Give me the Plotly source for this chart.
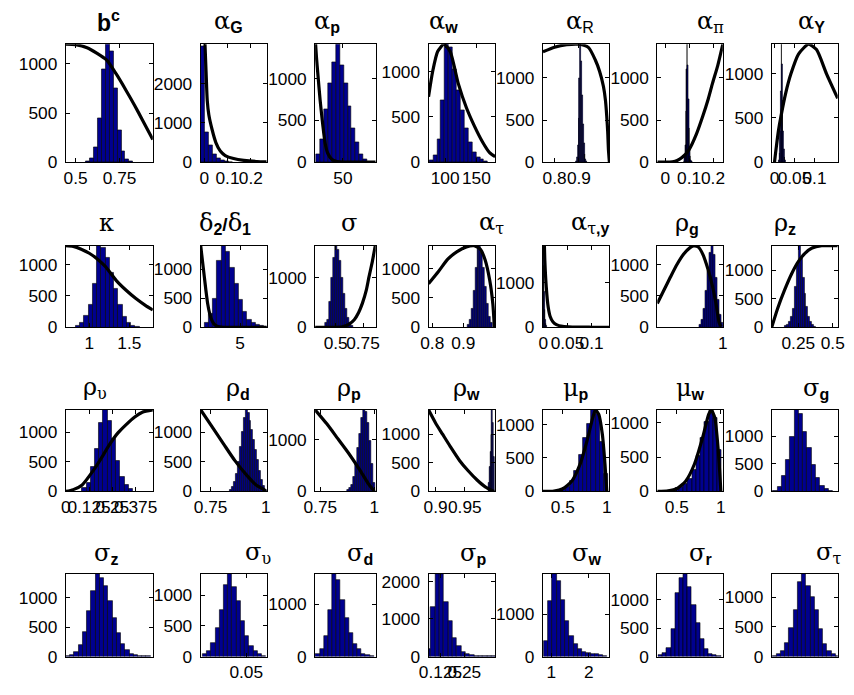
import plotly.graph_objects as go

W, H = 854, 695

# ---------------- data ----------------
# b^c
bc_x0, bc_dx = 0.571, 0.0222
bc_counts = [10, 40, 150, 450, 950, 1200, 1130, 750, 330, 110, 30, 8]
bc_px = [0.444, 0.5, 0.565, 0.62, 0.676, 0.73, 0.787, 0.835, 0.88, 0.939]
bc_py = [1200, 1195, 1165, 1110, 1040, 900, 730, 580, 430, 230]
bc_xr, bc_ymax = [0.444, 0.939], 1200
bc_xt, bc_xl = [0.5, 0.75], ["0.5", "0.75"]
bc_yt = [0, 500, 1000]

# alpha_G
aG_x0, aG_dx = -0.007, 0.017
aG_counts = [2950, 750, 420, 210, 100, 50, 25, 10]
aG_px = [0.0, 0.004, 0.008, 0.013, 0.02, 0.034, 0.05, 0.069, 0.09, 0.126, 0.17, 0.226, 0.268]
aG_py = [3500, 2900, 2300, 1575, 1200, 825, 500, 283, 170, 92, 45, 17, 10]
aG_xr, aG_ymax = [-0.015, 0.268], 3000
aG_xt, aG_xl = [0, 0.1, 0.2], ["0", "0.1", "0.2"]
aG_yt = [0, 1000, 2000]

# alpha_p
ap_x0, ap_dx = 13.9, 5.7
ap_counts = [98, 274, 627, 940, 1195, 1410, 1155, 940, 666, 411, 235, 98, 40]
ap_px = [10, 12, 14, 17.2, 20, 24.3, 28, 33.9, 40, 50, 97]
ap_py = [1500, 1250, 1050, 741, 520, 232, 110, 35, 10, 2, 0]
ap_xr, ap_ymax = [10, 97], 1410
ap_xt, ap_xl = [50], ["50"]
ap_yt = [0, 500, 1000]

# alpha_w
aw_x0, aw_dx = 77.7, 6.25
aw_counts = [18, 72, 253, 686, 1300, 1264, 1029, 794, 578, 379, 217, 108, 54, 29, 10]
aw_px = [73.4, 80, 88, 98, 108, 121, 134, 147, 160, 171, 180]
aw_py = [720, 1000, 1220, 1300, 1220, 866, 600, 395, 220, 105, 60]
aw_xr, aw_ymax = [73.4, 179.7], 1300
aw_xt, aw_xl = [100, 150], ["100", "150"]
aw_yt = [0, 500, 1000]

# alpha_R
aR_x0, aR_dx = 0.8895, 0.0035
aR_counts = [15, 60, 200, 520, 1000, 1400, 1200, 800, 450, 220, 90, 30, 10]
aR_px = [0.752, 0.8, 0.85, 0.9, 0.94, 0.968, 0.985, 1.001, 1.009, 1.0146, 1.0185, 1.0215, 1.0255]
aR_py = [1310, 1365, 1395, 1400, 1360, 1210, 1080, 898, 740, 545, 360, 153, 0]
aR_xr, aR_ymax = [0.752, 1.0255], 1400
aR_xt, aR_xl = [0.8, 0.9], ["0.8", "0.9"]
aR_yt = [0, 500, 1000]

# alpha_pi
api_x0, api_dx = 0.0805, 0.0025
api_counts = [15, 60, 200, 600, 1100, 1400, 1150, 750, 400, 180, 70, 25, 8]
api_px = [-0.033, 0.0, 0.03, 0.05, 0.07, 0.1, 0.13, 0.157, 0.18, 0.198, 0.22, 0.241]
api_py = [0, 0, 5, 20, 55, 150, 330, 545, 750, 938, 1150, 1400]
api_xr, api_ymax = [-0.033, 0.241], 1400
api_xt, api_xl = [0, 0.1, 0.2], ["0", "0.1", "0.2"]
api_yt = [0, 500, 1000]

# alpha_Y
aY_x0, aY_dx = 0.0115, 0.0015
aY_counts = [20, 100, 350, 800, 1330, 1100, 700, 350, 150, 60, 20]
aY_px = [0.0, 0.002, 0.005, 0.01, 0.016, 0.028, 0.041, 0.06, 0.085, 0.105, 0.13, 0.158]
aY_py = [0, 80, 190, 360, 514, 780, 997, 1220, 1330, 1270, 997, 720]
aY_xr, aY_ymax = [-0.007, 0.158], 1330
aY_xt, aY_xl = [0, 0.05, 0.1], ["0", "0.05", "0.1"]
aY_yt = [0, 500, 1000]

# kappa
ka_x0, ka_dx = 0.856, 0.053
ka_counts = [26, 68, 182, 354, 702, 1300, 1264, 1108, 874, 614, 354, 172, 68, 26, 10]
ka_px = [0.707, 0.8, 0.9, 1.0, 1.1, 1.2, 1.338, 1.46, 1.582, 1.7, 1.793]
ka_py = [1300, 1290, 1245, 1180, 1090, 970, 744, 590, 458, 350, 276]
ka_xr, ka_ymax = [0.707, 1.793], 1300
ka_xt, ka_xl = [1, 1.5], ["1", "1.5"]
ka_yt = [0, 500, 1000]

# delta2/delta1
de_x0, de_dx = 1.41, 0.456
de_counts = [73, 241, 493, 1137, 1400, 1305, 1025, 745, 465, 269, 129, 73, 39, 20, 10, 5]
de_px = [0.8, 1.0, 1.19, 1.35, 1.54, 1.75, 1.96, 2.2, 2.42, 3.0, 4.0, 7.84]
de_py = [1400, 1120, 860, 640, 410, 240, 130, 60, 29, 5, 0, 0]
de_xr, de_ymax = [0.8, 7.84], 1400
de_xt, de_xl = [5], ["5"]
de_yt = [0, 500, 1000]

# sigma
si_x0, si_dx = 0.417, 0.0179
si_counts = [86, 152, 515, 1010, 1406, 1650, 1570, 1340, 1010, 680, 383, 185, 86, 33]
si_px = [0.3125, 0.5, 0.56, 0.62, 0.67, 0.71, 0.744, 0.78, 0.804, 0.835, 0.866]
si_py = [0, 0, 10, 60, 153, 300, 483, 750, 1014, 1330, 1700]
si_xr, si_ymax = [0.3125, 0.866], 1650
si_xt, si_xl = [0.5, 0.75], ["0.5", "0.75"]
si_yt = [0, 1000]

# alpha_tau
at_x0, at_dx = 0.9158, 0.0063
at_counts = [44, 128, 322, 628, 1017, 1351, 1390, 1268, 1017, 684, 406, 183, 72]
at_px = [0.788, 0.82, 0.85, 0.88, 0.91, 0.935, 0.955, 0.97, 0.985, 0.995, 1.0]
at_py = [742, 950, 1160, 1290, 1370, 1390, 1330, 1150, 800, 400, 0]
at_xr, at_ymax = [0.788, 1.002], 1390
at_xt, at_xl = [0.8, 0.9], ["0.8", "0.9"]
at_yt = [0, 500, 1000]

# alpha_tau,y
ay_x0, ay_dx = 0.0005, 0.001
ay_counts = [1840, 1400, 800, 400, 180, 70, 25]
ay_px = [0.0005, 0.003, 0.006, 0.01, 0.014, 0.02, 0.027, 0.04, 0.06, 0.1, 0.137]
ay_py = [2600, 1500, 900, 450, 244, 120, 60, 20, 6, 1, 0]
ay_xr, ay_ymax = [-0.001, 0.137], 1840
ay_xt, ay_xl = [0, 0.05, 0.1], ["0", "0.05", "0.1"]
ay_yt = [0, 1000]

# rho_g
rg_x0, rg_dx = 0.931, 0.006
rg_counts = [42, 120, 302, 588, 900, 1186, 1300, 1160, 796, 432, 198, 68]
rg_px = [0.8, 0.82, 0.84, 0.86, 0.88, 0.9, 0.91, 0.925, 0.939, 0.955, 0.969, 0.98, 0.989, 0.995]
rg_py = [380, 590, 800, 1000, 1163, 1270, 1295, 1280, 1163, 920, 642, 350, 67, 10]
rg_xr, rg_ymax = [0.8, 1.0], 1300
rg_xt, rg_xl = [1], ["1"]
rg_yt = [0, 500, 1000]

# rho_z
rz_x0, rz_dx = 0.157, 0.0143
rz_counts = [20, 46, 103, 189, 332, 704, 1100, 1430, 1218, 875, 589, 360, 189, 103, 46, 17]
rz_px = [0.057, 0.1, 0.15, 0.2, 0.25, 0.3, 0.35, 0.42, 0.536]
rz_py = [0, 330, 650, 930, 1150, 1300, 1390, 1430, 1430]
rz_xr, rz_ymax = [0.057, 0.536], 1430
rz_xt, rz_xl = [0.25, 0.5], ["0.25", "0.5"]
rz_yt = [0, 500, 1000]

# rho_upsilon
ru_x0, ru_dx = 0.0988, 0.0227
ru_counts = [55, 138, 414, 718, 1159, 1380, 1187, 883, 524, 248, 110, 39]
ru_px = [0, 0.04, 0.088, 0.149, 0.19, 0.236, 0.28, 0.324, 0.37, 0.411, 0.467]
ru_py = [0, 30, 110, 359, 560, 800, 990, 1131, 1260, 1341, 1380]
ru_xr, ru_ymax = [0, 0.467], 1380
ru_xt, ru_xl = [0, 0.125, 0.25, 0.375], ["0", "0.125", "0.25", "0.375"]
ru_yt = [0, 500, 1000]

# rho_d
rd_x0, rd_dx = 0.841, 0.00882
rd_counts = [30, 80, 170, 300, 500, 750, 1000, 1250, 1380, 1325, 1200, 1050, 880, 700, 530, 350, 200, 90, 30]
rd_px = [0.705, 0.75, 0.809, 0.86, 0.912, 0.956, 0.993, 1.0]
rd_py = [1380, 1130, 800, 520, 280, 110, 27, 0]
rd_xr, rd_ymax = [0.705, 1.004], 1380
rd_xt, rd_xl = [0.75, 1], ["0.75", "1"]
rd_yt = [0, 500, 1000]

# rho_p
rp_x0, rp_dx = 0.880, 0.009
rp_counts = [31, 63, 126, 283, 534, 848, 1099, 1413, 1570, 1539, 1319, 973, 534, 157]
rp_px = [0.726, 0.78, 0.83, 0.88, 0.93, 0.97, 1.0]
rp_py = [1570, 1300, 1020, 740, 430, 160, 0]
rp_xr, rp_ymax = [0.726, 1.006], 1570
rp_xt, rp_xl = [0.75, 1], ["0.75", "1"]
rp_yt = [0, 1000]

# rho_w
rw_x0, rw_dx = 0.9912, 0.0015
rw_counts = [150, 430, 700, 1000, 1430, 1200, 600]
rw_px = [0.888, 0.9, 0.912, 0.925, 0.941, 0.955, 0.971, 0.985, 1.0]
rw_py = [1430, 1200, 1003, 790, 543, 370, 200, 80, 0]
rw_xr, rw_ymax = [0.888, 1.0017], 1430
rw_xt, rw_xl = [0.9, 0.95], ["0.9", "0.95"]
rw_yt = [0, 500, 1000]

# mu_p
mp_x0, mp_dx = 0.368, 0.048
mp_counts = [10, 15, 25, 40, 63, 161, 307, 551, 795, 1015, 1220, 1161, 747, 259]
mp_px = [0.274, 0.4, 0.5, 0.6, 0.7, 0.78, 0.84, 0.87, 0.91, 0.95, 0.98, 1.0]
mp_py = [0, 5, 40, 150, 420, 780, 1100, 1220, 1150, 850, 400, 0]
mp_xr, mp_ymax = [0.274, 1.03], 1220
mp_xt, mp_xl = [0.5, 1], ["0.5", "1"]
mp_yt = [0, 500, 1000]

# mu_w
mw_x0, mw_dx = 0.36, 0.048
mw_counts = [10, 15, 25, 45, 70, 110, 180, 320, 520, 780, 1020, 1190, 1080, 600]
mw_px = [0.278, 0.4, 0.5, 0.6, 0.7, 0.8, 0.86, 0.89, 0.93, 0.97, 1.0]
mw_py = [0, 8, 40, 150, 400, 820, 1120, 1190, 1080, 600, 0]
mw_xr, mw_ymax = [0.278, 1.022], 1190
mw_xt, mw_xl = [0.5, 1], ["0.5", "1"]
mw_yt = [0, 500, 1000]

# sigma_g
sg_x0, sg_dx = 0.052, 0.0647
sg_counts = [18, 77, 284, 580, 995, 1480, 1409, 1083, 787, 491, 255, 107, 47, 18]
sg_xr, sg_ymax = [0, 1], 1480
sg_yt = [0, 500, 1000]

# sigma_z
sz_x0, sz_dx = 0.024, 0.0487
sz_counts = [8, 30, 84, 190, 414, 778, 1114, 1400, 1338, 1198, 935, 650, 400, 220, 110, 50, 20, 10, 5, 3]
sz_xr, sz_ymax = [0, 1], 1400
sz_yt = [0, 500, 1000]

# sigma_upsilon
su_x0, su_dx = 0.0209, 0.00296
su_counts = [38, 92, 227, 470, 767, 1172, 1350, 1145, 902, 578, 335, 173, 92, 38, 11]
su_xr, su_ymax = [0.018, 0.0644], 1350
su_xt, su_xl = [0.05], ["0.05"]
su_yt = [0, 500, 1000]

# sigma_d
sd_x0, sd_dx = 0.04, 0.0688
sd_counts = [40, 140, 390, 900, 1580, 1466, 1087, 739, 455, 234, 139, 57, 32, 13]
sd_xr, sd_ymax = [0, 1], 1580
sd_yt = [0, 1000]

# sigma_p
sp_x0, sp_dx = 0.0635, 0.0226
sp_counts = [211, 1311, 2200, 2200, 1450, 950, 500, 280, 130, 60, 30, 15, 8, 5, 3, 2]
sp_xr, sp_ymax = [0.0625, 0.41], 2200
sp_xt, sp_xl = [0.125, 0.25], ["0.125", "0.25"]
sp_yt = [0, 1000, 2000]

# sigma_w
sw_x0, sw_dx = 0.856, 0.113
sw_counts = [367, 1303, 1950, 1786, 1342, 835, 484, 289, 172, 117, 94, 70, 55, 39, 23]
sw_xr, sw_ymax = [0.773, 2.548], 1950
sw_xt, sw_xl = [1, 2], ["1", "2"]
sw_yt = [0, 1000]

# sigma_r
sr_x0, sr_dx = 0.047, 0.0637
sr_counts = [29, 70, 157, 476, 1114, 1375, 1450, 1230, 911, 592, 302, 128, 52, 23, 12]
sr_xr, sr_ymax = [0, 1], 1450
sr_yt = [0, 500, 1000]

# sigma_tau
st_x0, st_dx = 0.042, 0.0637
st_counts = [11, 39, 95, 234, 484, 790, 1250, 1390, 1180, 1010, 790, 456, 206, 95, 39, 17]
st_xr, st_ymax = [0, 1], 1390
st_yt = [0, 500, 1000]

# ---------------- titles ----------------
def gk(s):
    return '<span style="font-family:DejaVu Serif;font-size:24px">' + s + '</span>'

def bd(s):
    return '<b>' + s + '</b>'

def gks(s):
    return '<span style="font-family:DejaVu Serif">' + s + '</span>'

A, K, D, S, R, M = gk('α'), gk('κ'), gk('δ'), gk('σ'), gk('ρ'), gk('μ')
T, U, P = gks('τ'), gks('υ'), gks('π')

def sub(s):
    return '<sub><span style="font-size:16px">' + s + '</span></sub>'

def sup(s):
    return '<sup><span style="font-size:16px">' + s + '</span></sup>'

BC_TITLE = '<span style="font-size:23px">' + bd('b' + sup('c')) + '</span>'

PANELS = [
    dict(t=BC_TITLE, c=bc_counts, x0=bc_x0, dx=bc_dx, px=bc_px, py=bc_py, xr=bc_xr, ym=bc_ymax, xt=bc_xt, xl=bc_xl, yt=bc_yt),
    dict(t=A + sub(bd('G')), c=aG_counts, x0=aG_x0, dx=aG_dx, px=aG_px, py=aG_py, xr=aG_xr, ym=aG_ymax, xt=aG_xt, xl=aG_xl, yt=aG_yt),
    dict(t=A + sub(bd('p')), c=ap_counts, x0=ap_x0, dx=ap_dx, px=ap_px, py=ap_py, xr=ap_xr, ym=ap_ymax, xt=ap_xt, xl=ap_xl, yt=ap_yt),
    dict(t=A + sub(bd('w')), c=aw_counts, x0=aw_x0, dx=aw_dx, px=aw_px, py=aw_py, xr=aw_xr, ym=aw_ymax, xt=aw_xt, xl=aw_xl, yt=aw_yt),
    dict(t=A + sub('R'), c=aR_counts, x0=aR_x0, dx=aR_dx, px=aR_px, py=aR_py, xr=aR_xr, ym=aR_ymax, xt=aR_xt, xl=aR_xl, yt=aR_yt),
    dict(t=A + sub(P), c=api_counts, x0=api_x0, dx=api_dx, px=api_px, py=api_py, xr=api_xr, ym=api_ymax, xt=api_xt, xl=api_xl, yt=api_yt),
    dict(t=A + sub(bd('Y')), c=aY_counts, x0=aY_x0, dx=aY_dx, px=aY_px, py=aY_py, xr=aY_xr, ym=aY_ymax, xt=aY_xt, xl=aY_xl, yt=aY_yt),
    dict(t=K, c=ka_counts, x0=ka_x0, dx=ka_dx, px=ka_px, py=ka_py, xr=ka_xr, ym=ka_ymax, xt=ka_xt, xl=ka_xl, yt=ka_yt),
    dict(t=D + sub(bd('2')) + bd('/') + D + sub(bd('1')), c=de_counts, x0=de_x0, dx=de_dx, px=de_px, py=de_py, xr=de_xr, ym=de_ymax, xt=de_xt, xl=de_xl, yt=de_yt),
    dict(t=S, c=si_counts, x0=si_x0, dx=si_dx, px=si_px, py=si_py, xr=si_xr, ym=si_ymax, xt=si_xt, xl=si_xl, yt=si_yt),
    dict(t=A + sub(T), c=at_counts, x0=at_x0, dx=at_dx, px=at_px, py=at_py, xr=at_xr, ym=at_ymax, xt=at_xt, xl=at_xl, yt=at_yt),
    dict(t=A + sub(T + bd(',y')), c=ay_counts, x0=ay_x0, dx=ay_dx, px=ay_px, py=ay_py, xr=ay_xr, ym=ay_ymax, xt=ay_xt, xl=ay_xl, yt=ay_yt),
    dict(t=R + sub(bd('g')), c=rg_counts, x0=rg_x0, dx=rg_dx, px=rg_px, py=rg_py, xr=rg_xr, ym=rg_ymax, xt=rg_xt, xl=rg_xl, yt=rg_yt),
    dict(t=R + sub(bd('z')), c=rz_counts, x0=rz_x0, dx=rz_dx, px=rz_px, py=rz_py, xr=rz_xr, ym=rz_ymax, xt=rz_xt, xl=rz_xl, yt=rz_yt),
    dict(t=R + sub(U), c=ru_counts, x0=ru_x0, dx=ru_dx, px=ru_px, py=ru_py, xr=ru_xr, ym=ru_ymax, xt=ru_xt, xl=ru_xl, yt=ru_yt),
    dict(t=R + sub(bd('d')), c=rd_counts, x0=rd_x0, dx=rd_dx, px=rd_px, py=rd_py, xr=rd_xr, ym=rd_ymax, xt=rd_xt, xl=rd_xl, yt=rd_yt),
    dict(t=R + sub(bd('p')), c=rp_counts, x0=rp_x0, dx=rp_dx, px=rp_px, py=rp_py, xr=rp_xr, ym=rp_ymax, xt=rp_xt, xl=rp_xl, yt=rp_yt),
    dict(t=R + sub(bd('w')), c=rw_counts, x0=rw_x0, dx=rw_dx, px=rw_px, py=rw_py, xr=rw_xr, ym=rw_ymax, xt=rw_xt, xl=rw_xl, yt=rw_yt),
    dict(t=M + sub(bd('p')), c=mp_counts, x0=mp_x0, dx=mp_dx, px=mp_px, py=mp_py, xr=mp_xr, ym=mp_ymax, xt=mp_xt, xl=mp_xl, yt=mp_yt),
    dict(t=M + sub(bd('w')), c=mw_counts, x0=mw_x0, dx=mw_dx, px=mw_px, py=mw_py, xr=mw_xr, ym=mw_ymax, xt=mw_xt, xl=mw_xl, yt=mw_yt),
    dict(t=S + sub(bd('g')), c=sg_counts, x0=sg_x0, dx=sg_dx, xr=sg_xr, ym=sg_ymax, yt=sg_yt),
    dict(t=S + sub(bd('z')), c=sz_counts, x0=sz_x0, dx=sz_dx, xr=sz_xr, ym=sz_ymax, yt=sz_yt),
    dict(t=S + sub(U), c=su_counts, x0=su_x0, dx=su_dx, xr=su_xr, ym=su_ymax, xt=su_xt, xl=su_xl, yt=su_yt),
    dict(t=S + sub(bd('d')), c=sd_counts, x0=sd_x0, dx=sd_dx, xr=sd_xr, ym=sd_ymax, yt=sd_yt),
    dict(t=S + sub(bd('p')), c=sp_counts, x0=sp_x0, dx=sp_dx, xr=sp_xr, ym=sp_ymax, xt=sp_xt, xl=sp_xl, yt=sp_yt),
    dict(t=S + sub(bd('w')), c=sw_counts, x0=sw_x0, dx=sw_dx, xr=sw_xr, ym=sw_ymax, xt=sw_xt, xl=sw_xl, yt=sw_yt),
    dict(t=S + sub(bd('r')), c=sr_counts, x0=sr_x0, dx=sr_dx, xr=sr_xr, ym=sr_ymax, yt=sr_yt),
    dict(t=S + sub(T), c=st_counts, x0=st_x0, dx=st_dx, xr=st_xr, ym=st_ymax, yt=st_yt),
]

# ---------------- layout geometry (pixels) ----------------
COLS = [(55, 144), (193, 260.5), (310, 372), (426, 494), (543, 611), (660, 727), (777, 844.5)]
ROWS = [(43, 163), (248, 331), (415, 498), (582, 666)]
TITLE_X = [99, 221, 322, 441, 581, 714, 818,
           97, 217.5, 344.5, 490, 592, 690, 791,
           84.5, 231.5, 345, 465, 577, 694, 822,
           96, 251.5, 356, 472, 588, 704.5, 835]
TITLE_Y = [20, 225, 393, 561]

BAR_COLOR = '#00008F'
FONT = 'Liberation Sans, Arial, sans-serif'

fig = go.Figure()
layout = dict(
    width=W, height=H, margin=dict(l=0, r=0, t=0, b=0),
    paper_bgcolor='white', plot_bgcolor='white', showlegend=False,
    font=dict(family=FONT, size=16, color='black'),
    annotations=[],
)

axis_common = dict(showline=True, mirror='ticks', linecolor='black', linewidth=1,
                   ticks='inside', ticklen=4, tickcolor='black', tickwidth=1,
                   showgrid=False, zeroline=False, fixedrange=True,
                   tickfont=dict(family=FONT, size=17.3, color='black'))

for i, p in enumerate(PANELS):
    r, c = divmod(i, 7)
    k = '' if i == 0 else str(i + 1)
    xa, ya = 'x' + k, 'y' + k
    fig.add_trace(go.Bar(
        x0=p['x0'], dx=p['dx'], y=p['c'], width=p['dx'],
        marker=dict(color=BAR_COLOR, line=dict(color='black', width=0.6)),
        xaxis=xa, yaxis=ya, hoverinfo='skip'))
    if 'px' in p:
        fig.add_trace(go.Scatter(
            x=p['px'], y=p['py'], mode='lines',
            line=dict(color='black', width=3.2, shape='spline', smoothing=0.6),
            xaxis=xa, yaxis=ya, hoverinfo='skip'))
    L, Rr = COLS[c]
    T0, B0 = ROWS[r]
    xaxis = dict(axis_common, domain=[L / W, Rr / W], anchor=ya, range=p['xr'],
                 tickangle=0, ticklabelstandoff=0)
    if 'xt' in p:
        xaxis.update(tickvals=p['xt'], ticktext=p['xl'])
    else:
        xaxis.update(tickvals=[], showticklabels=False)
    yaxis = dict(axis_common, domain=[1 - B0 / H, 1 - T0 / H], anchor=xa,
                 range=[0, p['ym']], tickvals=p['yt'], ticktext=[str(v) for v in p['yt']],
                 ticklabelstandoff=4)
    layout['xaxis' + k] = xaxis
    layout['yaxis' + k] = yaxis
    layout['annotations'].append(dict(
        text=p['t'], x=TITLE_X[i] / W, y=1 - TITLE_Y[r] / H, xref='paper', yref='paper',
        xanchor='center', yanchor='middle', showarrow=False,
        font=dict(family=FONT, size=19, color='black')))

layout['bargap'] = 0
fig.update_layout(**layout)
fig.write_html('out.html')
